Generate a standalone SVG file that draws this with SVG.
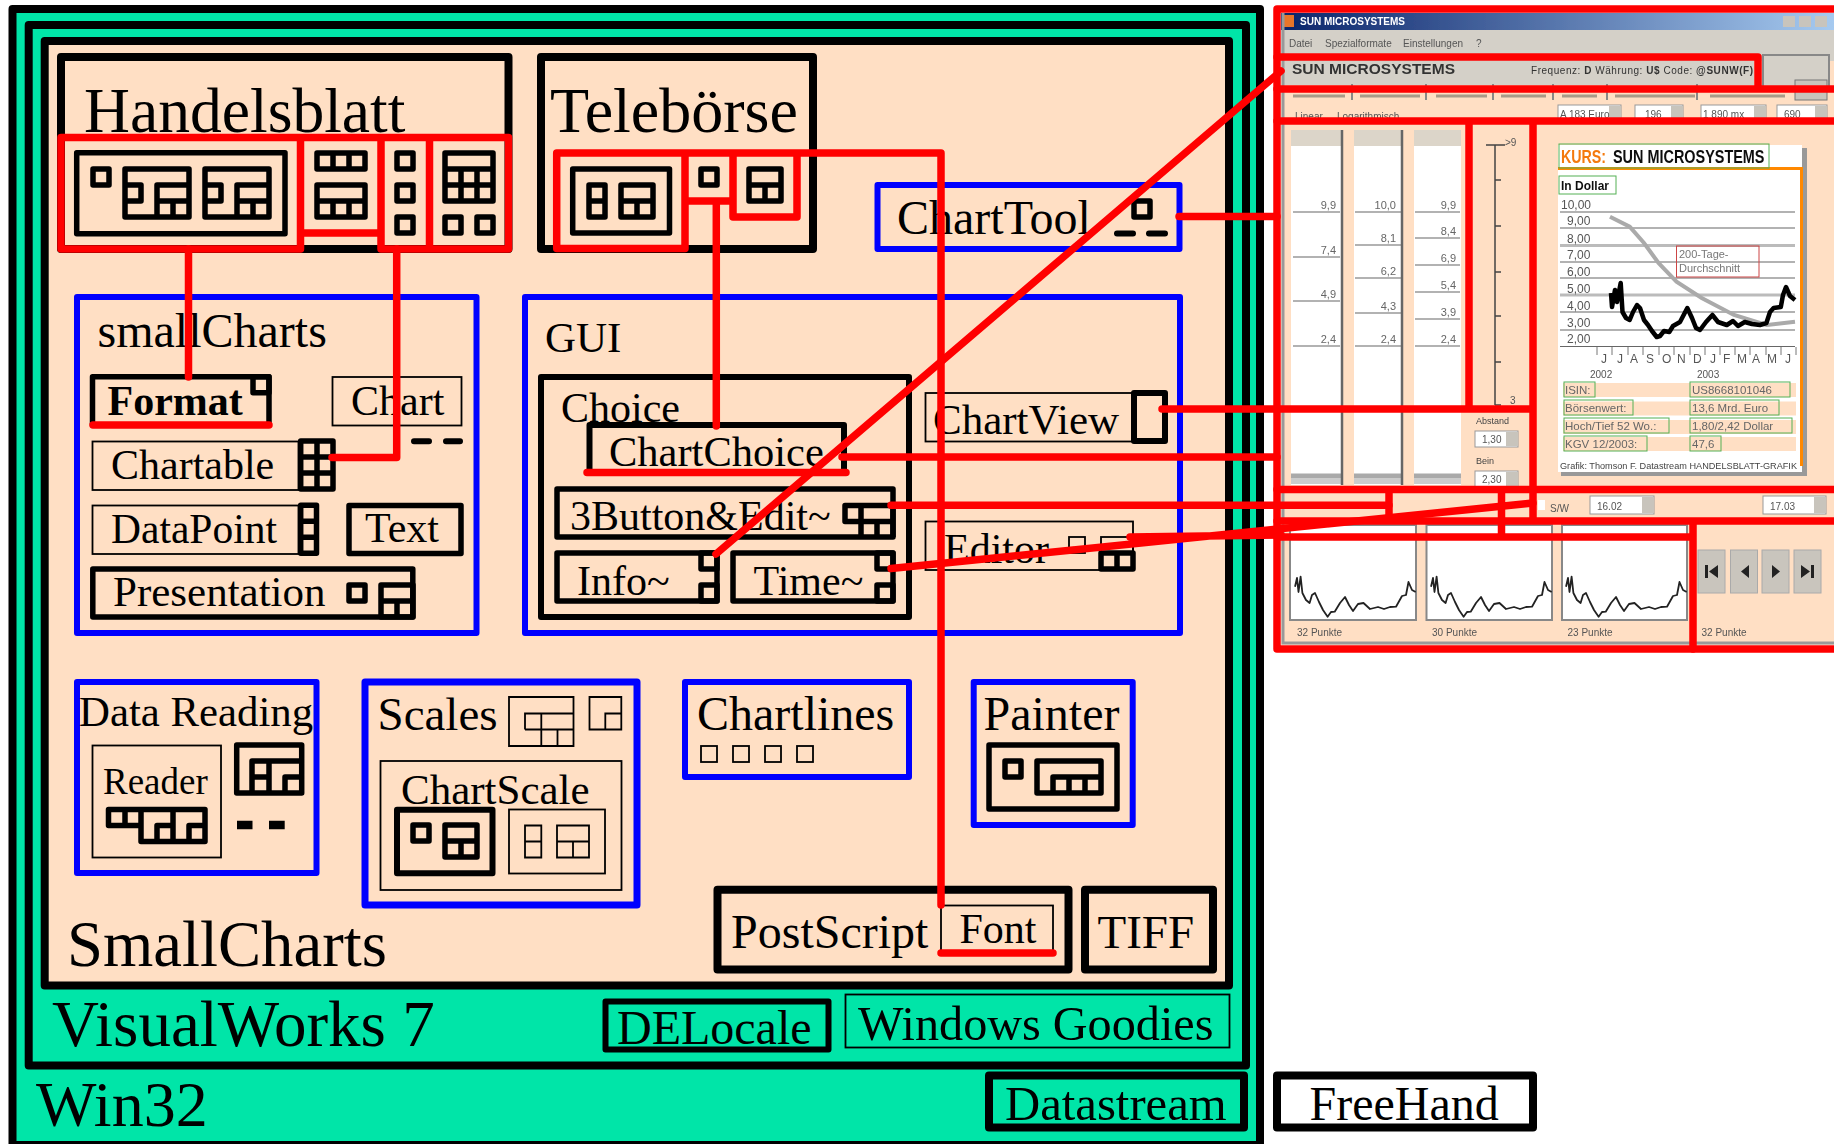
<svg xmlns="http://www.w3.org/2000/svg" width="1834" height="1144" viewBox="0 0 1834 1144">
<style>
text{font-family:"Liberation Serif","Times New Roman",serif;fill:#000}
.t65{font-size:65px}.t64{font-size:64px}.t48{font-size:48px}.t47{font-size:47px}.t43{font-size:43px}.t42{font-size:42px}.t37{font-size:37px}
.p{fill:#ffdfc4}.g{fill:#00e5a8}
.f{fill:none;stroke-linejoin:round}
.fr{stroke:#000;stroke-width:8}
.b{fill:none;stroke:#000;stroke-width:6;stroke-linejoin:round}
.k{fill:none;stroke:#000;stroke-width:5.5;stroke-linejoin:round}
.n{fill:none;stroke:#000;stroke-width:1.8}
.bl{fill:none;stroke:#00f;stroke-width:6;stroke-linejoin:round}
.d{fill:none;stroke:#000;stroke-width:6;stroke-linecap:round}
.r{fill:none;stroke:#f00;stroke-width:7.5;stroke-linejoin:round;stroke-linecap:round}
.wv{fill:none;stroke:#222;stroke-width:1.8;stroke-linejoin:round}
.s text{font-family:"Liberation Sans",Arial,sans-serif}
.s .a{font-size:10px;fill:#555}
.s .y{font-size:12px;fill:#555}
.s .m{font-size:11px;fill:#666}
.s .tb{fill:#fff;stroke:#999;stroke-width:1}
.s .gb{fill:none;stroke:#55b055;stroke-width:1}
.s .rw{font-size:11.5px;fill:#666}
.s .ln{stroke:#666;stroke-width:1.2;fill:none}
.s .pn{fill:#fff;stroke:#888;stroke-width:2}
.s .bt{fill:#c9c5bd;stroke:#aaa;stroke-width:1}
.s .sp{fill:#c8c4bc}
.s .ic{fill:#222}
</style>
<defs>
<linearGradient id="title" x1="0" x2="1" y1="0" y2="0"><stop offset="0" stop-color="#0a246a"/><stop offset="1" stop-color="#a6caf0"/></linearGradient>
<filter id="soft" x="0" y="0" width="1" height="1"><feGaussianBlur stdDeviation="0.7"/></filter>
<path id="w" class="wv" d="M1295 586.700L1297 578 1298.500 592 1300.600 576.700 1302.400 593 1306 600 1309.600 603 1312 595 1315 593 1319 602 1323 610 1327.600 616.700 1331 612 1334.700 611.700 1340 603 1345 597 1349 605 1353 611 1358 604 1363.500 603 1370 609 1378 607 1384 609 1390 607 1396 606.700 1402 596 1406 595 1408.500 582 1412 590 1415.700 592"/>
</defs>
<rect width="1834" height="1144" fill="#fff"/>

<g id="win32">
<rect class="g" x="12.5" y="9" width="1247.5" height="1136"/>
<rect class="f fr" x="12.5" y="9" width="1247.5" height="1136"/>
<text class="t64" x="36" y="1126">Win32</text>
</g>
<g id="visualworks">
<rect class="f fr" x="28.7" y="25" width="1217.3" height="1040.5"/>
<text class="t65" x="52" y="1046">VisualWorks 7</text>
</g>
<g id="smallcharts">
<rect class="p" x="44.7" y="41" width="1184.3" height="944.5"/>
<rect class="f fr" x="44.7" y="41" width="1184.3" height="944.5"/>
<text class="t65" x="67" y="966" style="font-size:64.700px">SmallCharts</text>
</g>

<g id="handelsblatt">
<rect class="f fr" x="61" y="57" width="447.5" height="192"/>
<text class="t64" x="84" y="132" style="font-size:63.600px">Handelsblatt</text>
<rect class="k" x="76.7" y="152.7" width="208.3" height="81"/>
<rect class="k" x="93" y="169" width="16" height="16"/>
<path class="k" d="M125 169H189V217H125ZM125 185H141V201H125M157 217V185H189M157 201H189M173 201V217"/>
<path class="k" d="M205 169H269V217H205ZM205 185H221V201H205M237 217V185H269M237 201H269M253 201V217"/>
<path class="k" d="M317 153H365V169H317ZM333 153V169M349 153V169"/>
<path class="k" d="M317 185H365V217H317ZM317 201H365M333 201V217M349 201V217"/>
<rect class="k" x="397" y="153" width="16" height="16"/>
<rect class="k" x="397" y="185" width="16" height="16"/>
<rect class="k" x="397" y="217" width="16" height="16"/>
<path class="k" d="M445 153H493V201H445ZM445 169H493M445 185H493M461 169V201M477 169V201"/>
<rect class="k" x="445" y="217" width="16" height="16"/>
<rect class="k" x="477" y="217" width="16" height="16"/>
</g>

<g id="teleboerse">
<rect class="f fr" x="541" y="57" width="272" height="192"/>
<text class="t64" x="550" y="132">Telebörse</text>
<rect class="k" x="572.7" y="169" width="96.8" height="64"/>
<path class="k" d="M589 185H605V217H589ZM589 201H605"/>
<path class="k" d="M621 185H653V217H621ZM621 201H653M637 201V217"/>
<rect class="k" x="701" y="169" width="16" height="16"/>
<path class="k" d="M749 169H781V201H749ZM749 185H781M765 185V201"/>
</g>

<g id="charttool">
<rect class="bl" x="877.500" y="185" width="302" height="64"/>
<text class="t48" x="897" y="234">ChartTool</text>
<rect class="k" x="1134" y="201" width="16" height="16"/>
<path class="d" d="M1117 233.500H1133M1149 233.500H1165"/>
</g>

<g id="smallCharts-package">
<rect class="bl" x="77" y="297" width="399.500" height="336"/>
<text class="t48" x="97.500" y="347">smallCharts</text>
</g>
<g id="format">
<rect class="k" x="92.500" y="376.700" width="176.500" height="48.300"/>
<text class="t42" x="107.500" y="415" font-weight="bold">Format</text>
<rect class="k" x="253" y="376.700" width="16" height="16"/>
</g>
<g id="chart">
<rect class="n" x="332.500" y="377" width="129" height="48.500"/>
<text class="t42" x="351" y="414.500">Chart</text>
<path class="d" d="M414 441.300H429M446 441.300H460"/>
</g>
<g id="chartable">
<rect class="n" x="92.500" y="441.500" width="206" height="48.500"/>
<text class="t42" x="111" y="478.500">Chartable</text>
<path class="k" d="M300.700 441H333V489H300.700ZM317 441V489M300.700 457H333M300.700 473H333"/>
</g>
<g id="datapoint">
<rect class="n" x="92.500" y="505.500" width="206" height="48.500"/>
<text class="t42" x="111" y="542.500" style="font-size:41.500px">DataPoint</text>
<path class="k" d="M300.700 505.300H316.500V553.300H300.700ZM300.700 521.300H316.500M300.700 537.300H316.500"/>
</g>
<g id="text">
<rect class="k" x="349" y="505.500" width="112" height="48"/>
<text class="t42" x="365" y="542">Text</text>
</g>
<g id="presentation">
<rect class="k" x="92.800" y="569" width="320" height="48"/>
<text class="t43" x="113" y="606">Presentation</text>
<rect class="k" x="349" y="585" width="16" height="16"/>
<path class="k" d="M381 585H413V617H381ZM381 601H413M397 601V617"/>
</g>

<g id="gui">
<rect class="bl" x="525" y="297" width="655" height="336"/>
<text class="t43" x="545" y="352">GUI</text>
</g>
<g id="choice">
<rect class="b" x="541" y="377" width="368" height="240"/>
<text class="t42" x="561" y="422">Choice</text>
</g>
<g id="chartchoice">
<rect class="b" x="589.500" y="425" width="254.500" height="48"/>
<text class="t42" x="609" y="466" style="font-size:42.500px">ChartChoice</text>
</g>
<g id="threebutton">
<rect class="k" x="557" y="489" width="336" height="48"/>
<text class="t42" x="570" y="530">3Button&amp;Edit~</text>
<path class="k" d="M845 505.500H861V521.500H845ZM861 505.500H893V537M861 537V521.500H893M877 521.500V537"/>
</g>
<g id="info">
<rect class="k" x="557" y="553" width="160" height="48"/>
<text class="t42" x="577" y="595">Info~</text>
<rect class="k" x="701" y="553" width="16" height="16"/>
<rect class="k" x="701" y="585" width="16" height="16"/>
</g>
<g id="time">
<rect class="k" x="733" y="553" width="160" height="48"/>
<text class="t42" x="753.500" y="595">Time~</text>
<rect class="k" x="877" y="553" width="16" height="16"/>
<rect class="k" x="877" y="585" width="16" height="16"/>
</g>
<g id="chartview">
<rect class="n" x="925.500" y="393" width="207" height="48.500"/>
<text class="t43" x="933" y="433.500">ChartView</text>
<rect class="b" x="1134" y="393" width="31" height="48"/>
</g>
<g id="editor">
<rect class="n" x="925.500" y="521.500" width="207.500" height="48.500"/>
<text class="t42" x="944" y="563">Editor</text>
<rect class="n" x="1069" y="537" width="16" height="16"/>
<rect class="n" x="1101" y="537" width="32" height="16"/>
<path class="k" d="M1101 553H1133V569H1101ZM1117 553V569"/>
</g>

<g id="datareading">
<rect class="bl" x="77" y="682" width="239.500" height="191"/>
<text class="t43" x="79" y="726" style="font-size:42.800px">Data Reading</text>
<rect class="n" x="92.500" y="745.500" width="128.500" height="112"/>
<text class="t37" x="103" y="794">Reader</text>
<path class="k" d="M108.500 809.500H205V841.500H141V825.500H108.500ZM125 809.500V825.500M141 825.500V809.500M173 809.500V841.500M157 841.500V825.500H173M189 841.500V825.500H205"/>
<path class="k" d="M236.700 745H301.700V793H236.700ZM252 793V761H301.700M252 777H269M269 761V793M285 793V777H301.700"/>
<path d="M237 825H252.500M269 825H284.700" fill="none" stroke="#000" stroke-width="8.500"/>
</g>
<g id="scales">
<rect class="bl" x="365" y="682" width="272" height="223" style="stroke-width:7"/>
<text class="t47" x="377.500" y="730">Scales</text>
<path class="n" d="M509 697H573.500V746H509ZM525 729.500V713.500H573.500M525 729.500H573.500M541.300 713.500V746M557.500 729.500V746"/>
<path class="n" d="M589.500 697H621.300V729.500H589.500ZM605.300 729.500V713.500H621.300"/>
</g>
<g id="chartscale">
<rect class="n" x="380.500" y="761" width="241" height="129"/>
<text class="t43" x="401" y="803.500">ChartScale</text>
<rect class="b" x="397" y="809.700" width="95.500" height="63.500"/>
<rect class="k" x="413" y="825" width="16" height="16"/>
<path class="k" d="M445 825H477V857H445ZM445 841H477M461 841V857"/>
<rect class="n" x="509" y="809.500" width="96" height="64"/>
<path class="n" d="M525 825.500H541.300V857.500H525ZM525 841.500H541.300"/>
<path class="n" d="M557 825.500H589V857.500H557ZM557 841.500H589M573 841.500V857.500"/>
</g>
<g id="chartlines">
<rect class="bl" x="685" y="682" width="224" height="95"/>
<text class="t48" x="697" y="730">Chartlines</text>
<rect class="n" x="701" y="746" width="16" height="16"/>
<rect class="n" x="733" y="746" width="16" height="16"/>
<rect class="n" x="765" y="746" width="16" height="16"/>
<rect class="n" x="797" y="746" width="16" height="16"/>
</g>
<g id="painter">
<rect class="bl" x="973.700" y="682" width="159" height="143"/>
<text class="t48" x="983.500" y="730">Painter</text>
<rect class="k" x="989" y="745" width="128" height="64"/>
<rect class="k" x="1005" y="761" width="16" height="16"/>
<path class="k" d="M1037 761H1101V793H1037ZM1053 793V777H1101M1069 777V793M1085 777V793"/>
</g>
<g id="postscript">
<rect class="f fr" x="717.500" y="889.700" width="351" height="79.800"/>
<text class="t48" x="731" y="948">PostScript</text>
</g>
<g id="font">
<rect class="n" x="941" y="905.500" width="112" height="48"/>
<text class="t42" x="959.500" y="942.500">Font</text>
</g>
<g id="tiff">
<rect class="f fr" x="1085" y="889.700" width="128" height="79.800"/>
<text class="t48" x="1097.500" y="948" style="font-size:47px">TIFF</text>
</g>
<g id="delocale">
<rect class="b" x="605.500" y="1001.500" width="223" height="48"/>
<text class="t48" x="617" y="1044">DELocale</text>
</g>
<g id="windowsgoodies">
<rect class="n" x="845.500" y="994.500" width="384" height="53"/>
<text class="t48" x="858" y="1040" style="font-size:48.200px">Windows Goodies</text>
</g>
<g id="datastream">
<rect class="f fr" x="989" y="1075.500" width="255" height="52"/>
<text class="t48" x="1005" y="1120" style="font-size:48.700px">Datastream</text>
</g>
<g id="freehand">
<rect x="1277" y="1075.500" width="256" height="52" fill="#fff" stroke="#000" stroke-width="8" stroke-linejoin="round"/>
<text class="t48" x="1309.500" y="1120">FreeHand</text>
</g>

<g id="screenshot" class="s" filter="url(#soft)">
<rect class="p" x="1281" y="13" width="553" height="632"/>
<rect x="1281" y="13" width="553" height="17" fill="url(#title)"/>
<text x="1300" y="25" font-weight="bold" style="fill:#fff;font-size:10px">SUN MICROSYSTEMS</text>
<rect x="1284" y="15" width="10" height="12" fill="#e8742a"/>
<rect x="1783" y="16" width="12" height="11" fill="#c8c4bc"/><rect x="1799" y="16" width="12" height="11" fill="#c8c4bc"/><rect x="1815" y="16" width="12" height="11" fill="#c8c4bc"/>
<rect x="1281" y="30" width="553" height="31" fill="#d4d0c8"/>
<text class="a" x="1289" y="47">Datei</text><text class="a" x="1325" y="47">Spezialformate</text><text class="a" x="1403" y="47">Einstellungen</text><text class="a" x="1476" y="47">?</text>
<rect x="1284" y="61" width="470" height="24" fill="#d4d0c8"/>
<text x="1292" y="74" font-weight="bold" textLength="163" lengthAdjust="spacingAndGlyphs" style="fill:#333;font-size:14px">SUN MICROSYSTEMS</text>
<text x="1531" y="74" textLength="222" style="fill:#333;font-size:10px">Frequenz: <tspan font-weight="bold">D</tspan>  Währung: <tspan font-weight="bold">U$</tspan> Code: <tspan font-weight="bold">@SUNW(F)</tspan></text>
<rect x="1763" y="55" width="66" height="36" fill="#d4d0c8" stroke="#888" stroke-width="2"/>
<rect x="1795" y="80" width="32" height="20" fill="#c8c4bc" stroke="#777"/>
<path d="M1293 96H1345M1360 96H1420M1436 96H1487M1501 96H1546M1562 96H1597M1615 96H1695M1710 96H1785" stroke="#a89a88" stroke-width="3" fill="none"/>
<path d="M1352 84V100M1426 84V100M1493 84V100M1553 84V100M1607 84V100M1697 84V100" stroke="#888" stroke-width="2" fill="none"/>
<rect x="1558" y="105" width="63" height="16" class="tb"/><rect x="1635" y="105" width="48" height="16" class="tb"/><rect x="1701" y="105" width="65" height="16" class="tb"/><rect x="1777" y="105" width="50" height="16" class="tb"/>
<rect class="sp" x="1609" y="106" width="12" height="14"/><rect class="sp" x="1671" y="106" width="12" height="14"/><rect class="sp" x="1754" y="106" width="12" height="14"/><rect class="sp" x="1815" y="106" width="12" height="14"/>
<text class="a" x="1560" y="118">A 183 Euro</text><text class="a" x="1645" y="118">196</text><text class="a" x="1703" y="118">1 890 mx</text><text class="a" x="1784" y="118">690</text>
<text class="a" x="1295" y="120">Linear</text><text class="a" x="1337" y="120">Logarithmisch</text>
<g id="columns">
<rect x="1291" y="130" width="50" height="355" fill="#fff"/><rect x="1354" y="130" width="47" height="355" fill="#fff"/><rect x="1414" y="130" width="47" height="355" fill="#fff"/>
<path d="M1291 138H1341M1354 138H1401M1414 138H1461" stroke="#dcd5c9" stroke-width="16" fill="none"/>
<path d="M1291 476H1341M1354 476H1401M1414 476H1461" stroke="#aaa" stroke-width="5" fill="none"/>
<path d="M1291 481H1341M1354 481H1401M1414 481H1461" stroke="#ccc" stroke-width="6" fill="none"/>
<path d="M1342 130V485M1402 130V485" stroke="#666" stroke-width="2.500" fill="none"/>
<path class="ln" d="M1293 212H1340M1293 257H1340M1293 301H1340M1293 346H1340M1355 212H1401M1355 245H1401M1355 278H1401M1355 313H1401M1355 346H1401M1415 212H1460M1415 238H1460M1415 265H1460M1415 292H1460M1415 319H1460M1415 346H1460"/>
<text class="m" x="1336" y="209" text-anchor="end">9,9</text><text class="m" x="1336" y="254" text-anchor="end">7,4</text><text class="m" x="1336" y="298" text-anchor="end">4,9</text><text class="m" x="1336" y="343" text-anchor="end">2,4</text>
<text class="m" x="1396" y="209" text-anchor="end">10,0</text><text class="m" x="1396" y="242" text-anchor="end">8,1</text><text class="m" x="1396" y="275" text-anchor="end">6,2</text><text class="m" x="1396" y="310" text-anchor="end">4,3</text><text class="m" x="1396" y="343" text-anchor="end">2,4</text>
<text class="m" x="1456" y="209" text-anchor="end">9,9</text><text class="m" x="1456" y="235" text-anchor="end">8,4</text><text class="m" x="1456" y="262" text-anchor="end">6,9</text><text class="m" x="1456" y="289" text-anchor="end">5,4</text><text class="m" x="1456" y="316" text-anchor="end">3,9</text><text class="m" x="1456" y="343" text-anchor="end">2,4</text>
</g>
<g id="slider">
<path d="M1495 145V405M1486 145H1505M1495 180h6M1495 226h6M1495 272h6M1495 316h6M1495 362h6M1495 405h6" stroke="#444" stroke-width="1.500" fill="none"/>
<text class="a" x="1505" y="146">&gt;9</text><text class="a" x="1510" y="404">3</text>
<text x="1476" y="424" style="font-size:9px;fill:#444">Abstand</text>
<rect class="tb" x="1475" y="431" width="43" height="16"/><rect class="sp" x="1506" y="432" width="12" height="14"/><text class="a" x="1482" y="443">1,30</text>
<text x="1476" y="464" style="font-size:9px;fill:#444">Bein</text>
<rect class="tb" x="1475" y="471" width="43" height="16"/><rect class="sp" x="1506" y="472" width="12" height="14"/><text class="a" x="1482" y="483">2,30</text>
</g>
<g id="kurs">
<rect x="1561" y="148" width="246" height="328" fill="#999"/>
<rect x="1558" y="145" width="244" height="327" fill="#fff"/>
<path d="M1558 168.500H1801.500V466" fill="none" stroke="#f80" stroke-width="3"/>
<rect class="gb" x="1559" y="144" width="210" height="24"/>
<text transform="translate(1561 163) scale(.75 1)" font-weight="bold" style="font-size:19px;fill:#f47a10">KURS:</text>
<text transform="translate(1613 163) scale(.76 1)" font-weight="bold" style="font-size:19px;fill:#111">SUN MICROSYSTEMS</text>
<rect class="gb" x="1559" y="176" width="57" height="18"/>
<text x="1561" y="190" font-weight="bold" style="font-size:12px;fill:#111">In Dollar</text>
<path d="M1560 212H1795M1560 228H1795M1560 262H1795M1560 278H1795M1560 312H1795M1560 330H1795M1560 346.500H1795" stroke="#666" stroke-width="1.200" fill="none"/>
<path d="M1560 245.500H1795M1560 295H1795" stroke="#bbb" stroke-width="3" fill="none"/>
<text class="y" x="1561" y="209">10,00</text><text class="y" x="1567" y="225">9,00</text><text class="y" x="1567" y="243">8,00</text><text class="y" x="1567" y="259">7,00</text><text class="y" x="1567" y="276">6,00</text><text class="y" x="1567" y="293">5,00</text><text class="y" x="1567" y="310">4,00</text><text class="y" x="1567" y="327">3,00</text><text class="y" x="1567" y="343">2,00</text>
<path d="M1610 216.700L1629.700 226.700 1644 243 1658.500 263 1676.500 281.700 1701.700 298 1734 315 1766.400 325 1795 321.700" fill="none" stroke="#aaa" stroke-width="4"/>
<rect x="1676.500" y="246" width="82.500" height="31" fill="none" stroke="#c44" stroke-width="1"/>
<text x="1679" y="258" style="font-size:11px;fill:#777">200-Tage-</text><text x="1679" y="272" style="font-size:11px;fill:#777">Durchschnitt</text>
<path d="M1611 293L1612 307 1615 290 1617 302 1620.700 283 1622.500 312 1626 318 1629.700 320 1633 312 1637 305 1640 308 1644 320 1648 325 1652 331 1656.700 337 1660 336 1664 331 1669.300 332 1673 326 1680 322 1687.300 308 1692 318 1696 328 1700 330 1706 322 1712.400 315 1718 322 1726.800 325 1733 321 1738 326 1744.800 322 1752 324 1760 325 1766.400 323 1770 312 1773.600 308 1780.800 307 1783 295 1786 287 1790 296 1795 300" fill="none" stroke="#000" stroke-width="4.500" stroke-linejoin="round"/>
<path d="M1597 347v8M1612 347v8M1628 347v8M1643 347v8M1659 347v8M1674 347v8M1690 347v8M1705 347v8M1720 347v8M1735 347v8M1750 347v8M1766 347v8M1781 347v8M1796 347v8" stroke="#777" fill="none"/>
<text class="y" x="1601" y="363">J</text><text class="y" x="1617" y="363">J</text><text class="y" x="1630" y="363">A</text><text class="y" x="1646" y="363">S</text><text class="y" x="1662" y="363">O</text><text class="y" x="1677" y="363">N</text><text class="y" x="1693" y="363">D</text><text class="y" x="1710" y="363">J</text><text class="y" x="1723" y="363">F</text><text class="y" x="1737" y="363">M</text><text class="y" x="1752" y="363">A</text><text class="y" x="1767" y="363">M</text><text class="y" x="1785" y="363">J</text>
<text class="a" x="1590" y="378">2002</text><text class="a" x="1697" y="378">2003</text>
<rect class="p" x="1563" y="383" width="233" height="14"/><rect class="p" x="1563" y="401.500" width="233" height="14"/><rect class="p" x="1563" y="420" width="233" height="14"/><rect class="p" x="1563" y="437" width="233" height="14"/>
<rect class="gb" x="1564" y="382" width="31" height="15"/><rect class="gb" x="1564" y="400" width="69" height="15"/><rect class="gb" x="1564" y="418" width="105" height="15"/><rect class="gb" x="1564" y="436" width="83" height="15"/>
<rect class="gb" x="1690" y="382" width="100" height="15"/><rect class="gb" x="1690" y="400" width="89" height="15"/><rect class="gb" x="1690" y="418" width="102" height="15"/><rect class="gb" x="1690" y="436" width="31" height="15"/>
<text class="rw" x="1565" y="394">ISIN:</text><text class="rw" x="1565" y="412">Börsenwert:</text><text class="rw" x="1565" y="430">Hoch/Tief 52 Wo.:</text><text class="rw" x="1565" y="448">KGV 12/2003:</text>
<text class="rw" x="1692" y="394">US8668101046</text><text class="rw" x="1692" y="412">13,6 Mrd. Euro</text><text class="rw" x="1692" y="430">1,80/2,42 Dollar</text><text class="rw" x="1692" y="448">47,6</text>
<text x="1560" y="469" textLength="237" lengthAdjust="spacingAndGlyphs" style="font-size:9px;fill:#444">Grafik: Thomson F. Datastream  HANDELSBLATT-GRAFIK</text>
</g>
<rect x="1538" y="500" width="7" height="10" fill="#fff"/>
<text class="a" x="1550" y="512">S/W</text>
<rect class="tb" x="1590" y="496" width="64" height="18"/><rect class="sp" x="1642" y="497" width="12" height="16"/><text class="a" x="1597" y="510">16.02</text>
<rect class="tb" x="1763" y="496" width="63" height="18"/><rect class="sp" x="1814" y="497" width="12" height="16"/><text class="a" x="1770" y="510">17.03</text>
<rect class="pn" x="1290" y="525" width="126" height="95"/><rect class="pn" x="1426.500" y="525" width="125.500" height="95"/><rect class="pn" x="1562" y="525" width="125" height="95"/>
<use href="#w"/><use href="#w" x="136"/><use href="#w" x="271"/>
<text class="a" x="1297" y="636">32 Punkte</text><text class="a" x="1432" y="636">30 Punkte</text><text class="a" x="1567.500" y="636">23 Punkte</text><text class="a" x="1701.500" y="636">32 Punkte</text>
<rect class="bt" x="1698" y="550" width="27" height="43"/><rect class="bt" x="1730.500" y="550" width="27" height="43"/><rect class="bt" x="1762" y="550" width="27" height="43"/><rect class="bt" x="1794" y="550" width="27" height="43"/>
<path class="ic" d="M1705 565h3v13h-3zM1718 565v13l-9-6.500zM1749 565v13l-8-6.500zM1772 565v13l8-6.500zM1801 565v13l9-6.500zM1811 565h3v13h-3z"/>
<path d="M1283 13V643H1834" fill="none" stroke="#999" stroke-width="3"/>
</g>

<g id="connectors">
<path class="r" d="M1277 9H1834M1277 9V649H1834"/>
<path class="r" d="M1277 57H1758V89M1277 89H1834M1277 121H1834M1469 121V409M1533 121V521M1277 409H1533M1277 489.500H1834M1277 521H1834M1277 537H1693M1693 521V649M1389 489.500V521M1501.500 489.500V537"/>
<path class="r" d="M61 137.500H300.500V249H61ZM300.500 137.500H381V233H300.500ZM381 137.500H429.500V249H381ZM429.500 137.500H508.500V249H429.500Z"/>
<path class="r" d="M188.500 249V377M396.700 249V457.500H332M93 425H269"/>
<path class="r" d="M556.700 153H685V248.500H556.700ZM685 153H733V201H685ZM733 153H797V217H733ZM797 153H941V905M941 953H1053M716.300 201V426M587 472.500H846"/>
<path class="r" d="M1179 216.500H1277M1162 409H1277M842 457H1277M891 505.300H1389M716 554L1281 71M891 568.600L1533 503M1130 537L1281 535"/>
</g>
</svg>
